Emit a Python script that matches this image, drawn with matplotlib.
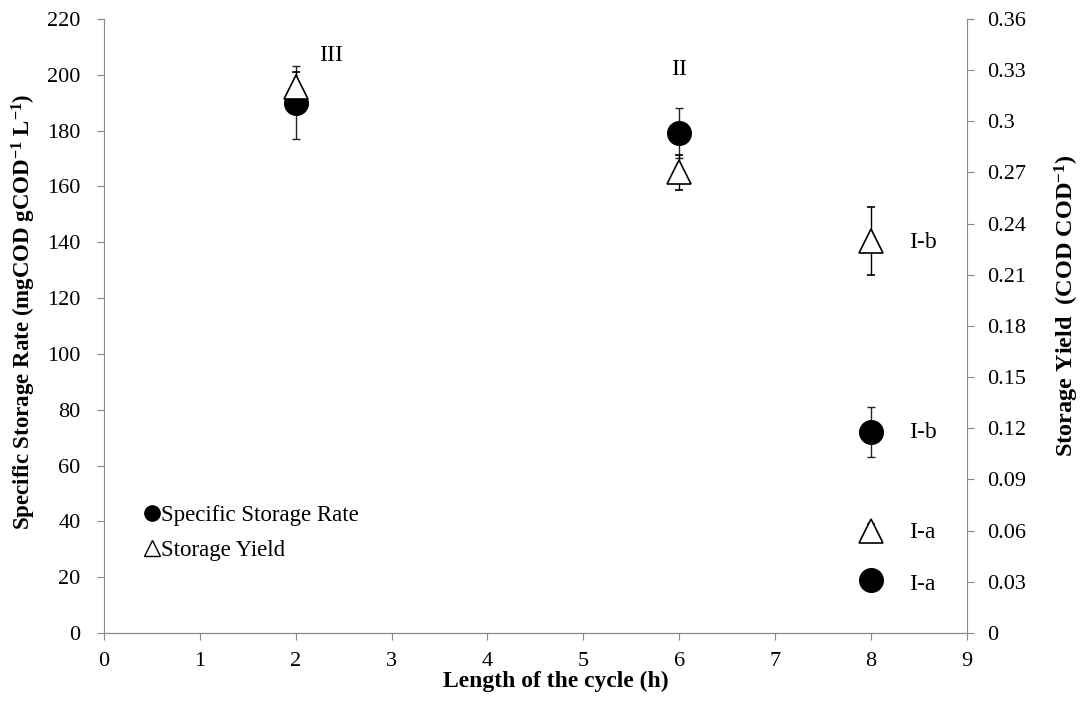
import matplotlib
matplotlib.use("Agg")
import matplotlib.pyplot as plt
from matplotlib.lines import Line2D

# Cycle length (h) and measurements
ssr_cycle = [2, 6, 8, 8]
ssr_values = [190, 179, 72, 19]
ssr_err = [13, 9, 9, 0]

yield_cycle = [2, 6, 8, 8]
yield_values = [0.32, 0.27, 0.23, 0.06]
yield_err = [0.009, 0.01, 0.02, 0.004]

point_labels = ["III", "II", "I-b", "I-b", "I-a", "I-a"]
yield_ticks = [0, 0.03, 0.06, 0.09, 0.12, 0.15, 0.18, 0.21, 0.24, 0.27, 0.3, 0.33, 0.36]
yield_ticklabels = ["0", "0.03", "0.06", "0.09", "0.12", "0.15", "0.18", "0.21",
                    "0.24", "0.27", "0.3", "0.33", "0.36"]

plt.rcParams["font.family"] = ["Liberation Serif", "DejaVu Serif"]
plt.rcParams["mathtext.fontset"] = "custom"
plt.rcParams["mathtext.rm"] = "Liberation Serif"
plt.rcParams["mathtext.bf"] = "Liberation Serif:bold"
plt.rcParams["mathtext.default"] = "bf"

fig = plt.figure(figsize=(10.8, 7.01), dpi=100)
ax = fig.add_axes([0.0963, 0.097, 0.7987, 0.876])
ax2 = ax.twinx()

spine_col = "#888888"
ax.errorbar(ssr_cycle, ssr_values, yerr=ssr_err, fmt="o", color="black",
            markersize=17, ecolor="#222222", elinewidth=1.0, capsize=2.7,
            capthick=1.0, zorder=3)
ax2.errorbar(yield_cycle, yield_values, yerr=yield_err, fmt="^",
             markerfacecolor="white", markeredgecolor="black",
             markeredgewidth=1.2, markersize=17, ecolor="black",
             elinewidth=1.0, capsize=2.7, capthick=1.0, zorder=3)

ax.set_xlim(0, 9)
ax.set_ylim(0, 220)
ax2.set_ylim(0, 0.36)
ax.set_xticks(range(0, 10))
ax.set_yticks(range(0, 221, 20))
ax2.set_yticks(yield_ticks)
ax2.set_yticklabels(yield_ticklabels)

for a in (ax, ax2):
    for s in a.spines.values():
        s.set_color(spine_col)
    a.spines["top"].set_visible(False)
    a.tick_params(labelsize=16, color=spine_col, length=5, direction="out")
ax.spines["right"].set_visible(False)
ax2.spines["left"].set_visible(False)
ax.tick_params(axis="y", pad=12)
ax.tick_params(axis="x", pad=9)
ax2.tick_params(axis="y", pad=10)

ax.set_xlabel("Length of the cycle (h)", fontsize=17, fontweight="bold")
ax.xaxis.set_label_coords(0.524, -0.062)
ax.set_ylabel(r"Specific Storage Rate (mgCOD gCOD$^{-1}$ L$^{-1}$)",
              fontsize=16.5, fontweight="bold")
ax.yaxis.set_label_coords(-0.076, 0.523)
ax2.set_ylabel(r"Storage Yield  (COD COD$^{-1}$)", fontsize=17.5, fontweight="bold")
ax2.yaxis.set_label_coords(1.1, 0.533)

label_pos = [(2.37, 207), (6.0, 202), (8.4, 140), (8.4, 72), (8.4, 36), (8.4, 17.5)]
for txt, (x, y) in zip(point_labels, label_pos):
    ha = "center" if txt in ("III", "II") else "left"
    ax.text(x, y, txt, fontsize=17, ha=ha, va="center", zorder=5)

handles = [
    Line2D([], [], marker="o", linestyle="none", color="black", markersize=11),
    Line2D([], [], marker="^", linestyle="none", markerfacecolor="white",
           markeredgecolor="black", markersize=11, markeredgewidth=1.0),
]
ax.legend(handles, ["Specific Storage Rate", "Storage Yield"], loc="lower left",
          bbox_to_anchor=(0.037, 0.102), frameon=False, fontsize=16.5,
          handlelength=0.6, handletextpad=0.1, labelspacing=0.62, borderaxespad=0)

fig.savefig("out.png", dpi=100)
